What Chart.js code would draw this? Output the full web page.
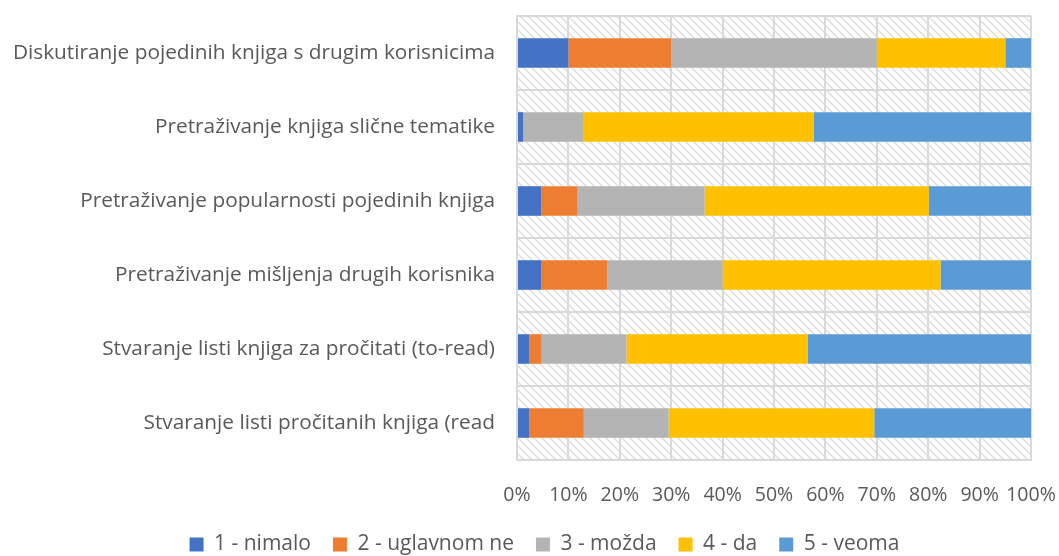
<!DOCTYPE html>
<html>
<head>
<meta charset="utf-8">
<script src="https://cdn.jsdelivr.net/npm/chart.js@4"></script>
<style>
  html, body { margin: 0; padding: 0; background: #fff; }
  #wrap { width: 1059px; height: 556px; position: relative; }
</style>
</head>
<body>
<div id="wrap"><canvas id="chart"></canvas></div>
<script>
// categories, top to bottom
const categories = [
    'Diskutiranje pojedinih knjiga s drugim korisnicima',
    'Pretraživanje knjiga slične tematike',
    'Pretraživanje popularnosti pojedinih knjiga',
    'Pretraživanje mišljenja drugih korisnika',
    'Stvaranje listi knjiga za pročitati (to-read)',
    'Stvaranje listi pročitanih knjiga (read'
];

// share of answers per category, in %
const nimalo     = [10, 1.2, 4.7, 4.7, 2.4, 2.4];
const uglavnomNe = [20, 0, 7.1, 12.9, 2.4, 10.6];
const mozda      = [40, 11.8, 24.7, 22.4, 16.5, 16.5];
const da         = [25, 44.7, 43.6, 42.4, 35.3, 40.0];
const veoma      = [5, 42.3, 19.9, 17.6, 43.4, 30.5];

const seriesNames = ['1 - nimalo', '2 - uglavnom ne', '3 - možda', '4 - da', '5 - veoma'];
const seriesColors = ['#4472c4', '#ed7d31', '#b4b4b4', '#ffc000', '#5b9bd5'];
const xTicks = [0, 10, 20, 30, 40, 50, 60, 70, 80, 90, 100];

function hatchPattern(ctx) {
    const c = document.createElement('canvas');
    c.width = 8; c.height = 8;
    const g = c.getContext('2d');
    g.fillStyle = '#ffffff';
    g.fillRect(0, 0, 8, 8);
    g.strokeStyle = '#dedede';
    g.lineWidth = 1.5;
    g.beginPath();
    g.moveTo(0, 0); g.lineTo(8, 8);
    g.moveTo(-4, 4); g.lineTo(4, 12);
    g.moveTo(4, -4); g.lineTo(12, 4);
    g.stroke();
    return ctx.createPattern(c, 'repeat');
}

// hatched plot area, like the Excel original
const plotBackground = {
    id: 'plotBackground',
    beforeDraw(chart) {
        const { ctx, chartArea: a } = chart;
        ctx.save();
        ctx.fillStyle = hatchPattern(ctx);
        ctx.fillRect(a.left, a.top, a.right - a.left, a.bottom - a.top);
        ctx.restore();
    }
};

// Excel centres the legend a bit right of the canvas middle
const legendShift = {
    id: 'legendShift',
    afterLayout(chart) {
        if (!chart.legend) return;
        chart.legend.left += 25;
        chart.legend.right += 25;
    }
};

const values = [nimalo, uglavnomNe, mozda, da, veoma];

new Chart(document.getElementById('chart'), {
    type: 'bar',
    data: {
        labels: categories,
        datasets: seriesNames.map((name, i) => ({
            label: name,
            data: values[i],
            backgroundColor: seriesColors[i],
            borderWidth: 0,
            categoryPercentage: 0.8,
            barPercentage: 0.5
        }))
    },
    options: {
        indexAxis: 'y',
        responsive: true,
        maintainAspectRatio: false,
        animation: false,
        layout: { padding: { left: 8, right: 28, top: 16, bottom: -9 } },
        plugins: {
            legend: {
                position: 'bottom',
                labels: {
                    boxWidth: 14,
                    boxHeight: 14,
                    padding: 22,
                    color: '#595959',
                    font: { family: 'Open Sans', size: 21 }
                }
            },
            tooltip: { enabled: false }
        },
        scales: {
            x: {
                stacked: true,
                min: 0,
                max: 100,
                afterBuildTicks(axis) {
                    axis.ticks = xTicks.map(v => ({ value: v }));
                },
                afterFit(axis) {
                    axis.paddingLeft = 0;
                    axis.paddingRight = 0;
                    axis.height = 52;
                },
                ticks: {
                    callback: v => v + '%',
                    color: '#595959',
                    padding: 24,
                    maxRotation: 0,
                    autoSkip: false,
                    font: { family: 'Open Sans', size: 19.5 }
                },
                grid: { color: '#d9d9d9', lineWidth: 2, drawTicks: false },
                border: { color: '#d9d9d9', width: 2 }
            },
            y: {
                stacked: true,
                afterFit(axis) {
                    axis.width = 509;
                    axis.paddingTop = 0;
                    axis.paddingBottom = 0;
                },
                ticks: {
                    color: '#595959',
                    padding: 22,
                    font: { family: 'Open Sans', size: 20.8 }
                },
                grid: { color: '#d9d9d9', lineWidth: 2, drawTicks: false },
                border: { color: '#d9d9d9', width: 2 }
            }
        }
    },
    plugins: [plotBackground, legendShift]
});
</script>
</body>
</html>
